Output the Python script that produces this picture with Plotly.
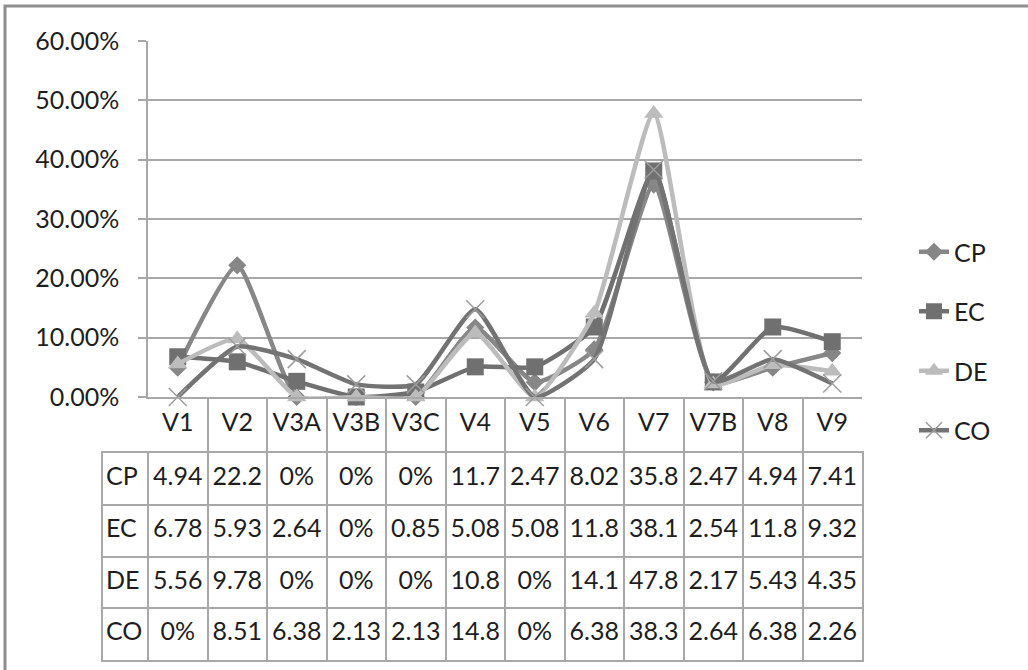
import plotly.graph_objects as go

# Categories and series values (percent of responses)
categories = ["V1", "V2", "V3A", "V3B", "V3C", "V4", "V5", "V6", "V7", "V7B", "V8", "V9"]
series_names = ["CP", "EC", "DE", "CO"]
cp = [4.94, 22.2, 0, 0, 0, 11.7, 2.47, 8.02, 35.8, 2.47, 4.94, 7.41]
ec = [6.78, 5.93, 2.64, 0, 0.85, 5.08, 5.08, 11.8, 38.1, 2.54, 11.8, 9.32]
de = [5.56, 9.78, 0, 0, 0, 10.8, 0, 14.1, 47.8, 2.17, 5.43, 4.35]
co = [0, 8.51, 6.38, 2.13, 2.13, 14.8, 0, 6.38, 38.3, 2.64, 6.38, 2.26]
y_ticks = [0, 10, 20, 30, 40, 50, 60]

series_values = [cp, ec, de, co]

W, H = 1028, 670
FONT = "Lato"
FS = 25
TXT = "#1e1e1e"
GRID = "#a8a8a8"

def px_x(v):
    return v / W

def px_y(v):
    return 1 - v / H

# pixel layout of the chart regions
PLOT_L, PLOT_R, PLOT_T, PLOT_B = 148, 862, 41, 397
HEAD_B = 453
TAB_L, TAB_B = 103, 660

styles = {
    "CP": dict(color="#878787", symbol="diamond", size=14, mline=None),
    "EC": dict(color="#707070", symbol="square", size=17, mline=None),
    "DE": dict(color="#bcbcbc", symbol="triangle-up", size=17, mline=None),
    "CO": dict(color="#737373", symbol="x-thin", size=18, mline="#9c9c9c"),
}

fig = go.Figure()

for name, vals in zip(series_names, series_values):
    st = styles[name]
    marker = dict(symbol=st["symbol"], size=st["size"], color=st["color"])
    if st["mline"]:
        marker["line"] = dict(color=st["mline"], width=1.5)
    fig.add_trace(go.Scatter(
        x=categories, y=[v / 100 for v in vals], name=name,
        mode="lines+markers",
        line=dict(color=st["color"], width=4.5, shape="spline", smoothing=0.5),
        marker=marker, cliponaxis=False, legendgroup=name,
        xaxis="x", yaxis="y", hoverinfo="skip",
    ))

# header row with the category names
fig.add_trace(go.Scatter(
    x=list(range(len(categories))), y=[0.5] * len(categories),
    mode="text", text=categories, textposition="middle center",
    textfont=dict(family=FONT, size=FS, color=TXT),
    xaxis="x2", yaxis="y2", showlegend=False, hoverinfo="skip",
))

# data table body
def fmt(v):
    return "0%" if v == 0 else f"{v:.3g}"

tx, ty, tt = [], [], []
for r, vals in enumerate(series_values):
    for c, v in enumerate(vals):
        tx.append(c)
        ty.append(r + 0.5)
        tt.append(fmt(v))
fig.add_trace(go.Scatter(
    x=tx, y=ty, mode="text", text=tt, textposition="middle center",
    textfont=dict(family=FONT, size=FS, color=TXT),
    xaxis="x3", yaxis="y3", showlegend=False, hoverinfo="skip",
))

label_w = (PLOT_L - TAB_L) / ((PLOT_R - PLOT_L) / len(categories))
x_left = -0.5 - label_w
fig.add_trace(go.Scatter(
    x=[x_left + 0.05] * len(series_names), y=[r + 0.5 for r in range(len(series_names))],
    mode="text", text=series_names, textposition="middle right",
    textfont=dict(family=FONT, size=FS, color=TXT),
    xaxis="x3", yaxis="y3", showlegend=False, hoverinfo="skip",
))

bounds = [-0.5 + i for i in range(len(categories) + 1)]

fig.update_layout(
    width=W, height=H,
    margin=dict(l=0, r=0, t=0, b=0, autoexpand=False),
    paper_bgcolor="white", plot_bgcolor="white",
    font=dict(family=FONT, size=FS, color=TXT),
    showlegend=True,
    legend=dict(
        x=px_x(914), y=px_y(341), xanchor="left", yanchor="middle",
        font=dict(family=FONT, size=FS, color=TXT),
        tracegroupgap=24, bgcolor="rgba(0,0,0,0)",
    ),
    xaxis=dict(
        domain=[px_x(PLOT_L), px_x(PLOT_R)], anchor="y", automargin=False,
        type="category", categoryarray=categories, range=[-0.5, len(categories) - 0.5],
        showgrid=False, showline=True, linecolor=GRID, linewidth=1.5,
        showticklabels=False, ticks="", zeroline=False, fixedrange=True,
    ),
    yaxis=dict(
        domain=[px_y(PLOT_B), px_y(PLOT_T)], anchor="x", automargin=False,
        range=[0, 0.6], tickvals=[t / 100 for t in y_ticks], tickformat=".2%",
        showgrid=True, gridcolor=GRID, gridwidth=1.5,
        showline=True, linecolor=GRID, linewidth=1.5,
        ticks="outside", ticklen=8, tickcolor=GRID, tickwidth=1.5,
        ticklabelstandoff=14, zeroline=False, fixedrange=True,
        tickfont=dict(family=FONT, size=FS, color=TXT),
    ),
    xaxis2=dict(
        domain=[px_x(PLOT_L), px_x(PLOT_R)], anchor="y2", automargin=False,
        range=[-0.5, len(categories) - 0.5], tickvals=bounds,
        showgrid=True, gridcolor=GRID, gridwidth=1.5,
        showline=False, showticklabels=False, ticks="", zeroline=False, fixedrange=True,
    ),
    yaxis2=dict(
        domain=[px_y(HEAD_B), px_y(PLOT_B)], anchor="x2", automargin=False,
        range=[0, 1], showgrid=False, showline=False, showticklabels=False,
        ticks="", zeroline=False, fixedrange=True,
    ),
    xaxis3=dict(
        domain=[px_x(TAB_L), px_x(PLOT_R)], anchor="y3", automargin=False,
        range=[x_left, len(categories) - 0.5], tickvals=[x_left] + bounds,
        showgrid=True, gridcolor=GRID, gridwidth=1.5,
        showline=True, mirror=True, linecolor=GRID, linewidth=1.5,
        showticklabels=False, ticks="", zeroline=False, fixedrange=True,
    ),
    yaxis3=dict(
        domain=[px_y(TAB_B), px_y(HEAD_B)], anchor="x3", automargin=False,
        range=[len(series_names), 0], tickvals=list(range(len(series_names) + 1)),
        showgrid=True, gridcolor=GRID, gridwidth=1.5,
        showline=True, mirror=True, linecolor=GRID, linewidth=1.5,
        showticklabels=False, ticks="", zeroline=False, fixedrange=True,
    ),
    shapes=[dict(
        type="rect", xref="paper", yref="paper",
        x0=px_x(5), x1=1.05, y0=-0.05, y1=px_y(6),
        line=dict(color="#8f8f8f", width=3), fillcolor="rgba(0,0,0,0)", layer="above",
    )],
)

fig.write_html("out.html")
